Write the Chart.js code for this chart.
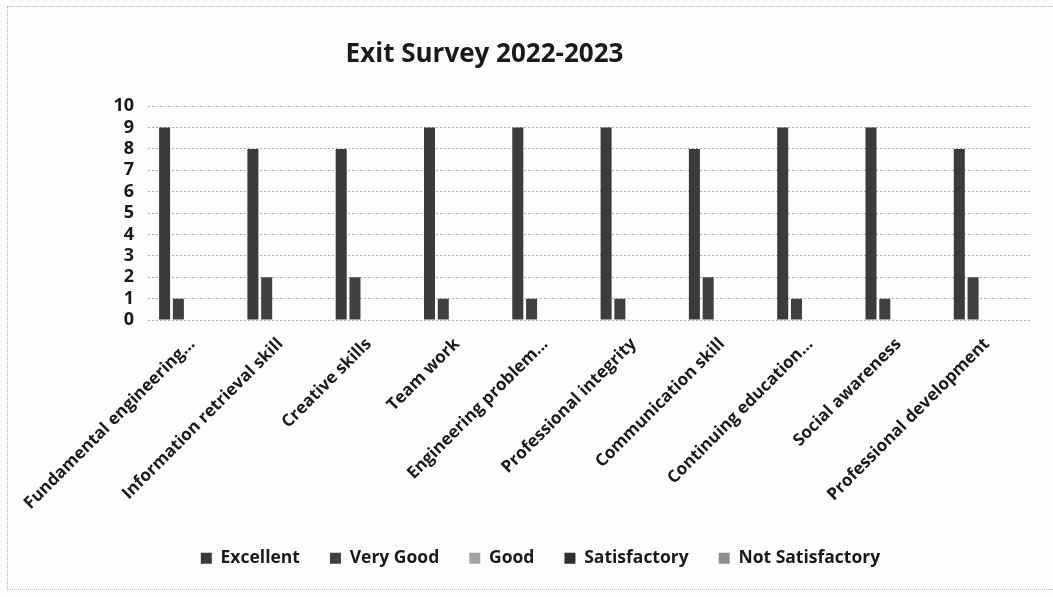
<!DOCTYPE html>
<html>
<head>
<meta charset="utf-8">
<script src="https://cdn.jsdelivr.net/npm/chart.js@4/dist/chart.umd.min.js"></script>
<style>
  html, body { margin: 0; padding: 0; background: #fdfdfd; }
  #wrap { position: relative; width: 1053px; height: 597px; }
  #frame {
    position: absolute; left: 7px; top: 6px; width: 1060px; height: 584px;
    border: 1px dotted #b5b5b5; box-sizing: border-box; pointer-events: none;
  }
</style>
</head>
<body>
<div id="wrap">
  <canvas id="chart_1" width="1053" height="597"></canvas>
  <div id="frame"></div>
</div>
<script>
// categories
const categories = [
  "Fundamental engineering...",
  "Information retrieval skill",
  "Creative skills",
  "Team work",
  "Engineering problem...",
  "Professional integrity",
  "Communication skill",
  "Continuing education...",
  "Social awareness",
  "Professional development",
];

// series values
const excellent = [9, 8, 8, 9, 9, 9, 8, 9, 9, 8];
const veryGood = [1, 2, 2, 1, 1, 1, 2, 1, 1, 2];
const good = [0, 0, 0, 0, 0, 0, 0, 0, 0, 0];
const satisfactory = [0, 0, 0, 0, 0, 0, 0, 0, 0, 0];
const notSatisfactory = [0, 0, 0, 0, 0, 0, 0, 0, 0, 0];

const seriesNames = ["Excellent", "Very Good", "Good", "Satisfactory", "Not Satisfactory"];
const seriesValues = [excellent, veryGood, good, satisfactory, notSatisfactory];
const seriesColors = ["#3b3b3b", "#404040", "#a3a3a3", "#2f2f2f", "#8e8e8e"];

const fontFamily = "'Open Sans', 'DejaVu Sans', sans-serif";

// 標題往左、圖例往右微調
const shiftBlocksPlugin = {
  id: "shiftBlocks",
  afterLayout: (chart) => {
    if (chart.titleBlock) {
      chart.titleBlock.left -= 72;
    }
    if (chart.legend) {
      chart.legend.left += 20;
      chart.legend.right += 20;
    }
  },
};

const ctx_1 = document.getElementById("chart_1");
const chart_1 = new Chart(ctx_1, {
  type: "bar",
  data: {
    labels: categories,
    datasets: seriesNames.map((name, i) => ({
      label: name,
      data: seriesValues[i],
      backgroundColor: seriesColors[i],
      borderWidth: 0,
      categoryPercentage: 0.78,
      barPercentage: 0.8,
    })),
  },
  options: {
    responsive: false,
    animation: false,
    devicePixelRatio: 1,
    layout: {
      padding: { left: 10, right: 22, top: 0, bottom: 20 },
    },
    plugins: {
      title: {
        display: true,
        text: "Exit Survey 2022-2023",
        color: "#1a1a1a",
        font: { family: fontFamily, size: 26, weight: "bold" },
        padding: { top: 39, bottom: 36 },
      },
      legend: {
        position: "bottom",
        labels: {
          color: "#1a1a1a",
          boxWidth: 11,
          boxHeight: 11,
          padding: 30,
          font: { family: fontFamily, size: 17.5, weight: "bold" },
        },
      },
      tooltip: { enabled: false },
    },
    scales: {
      x: {
        grid: { display: false },
        border: { display: false },
        ticks: {
          color: "#1a1a1a",
          autoSkip: false,
          minRotation: 45,
          maxRotation: 45,
          padding: 6,
          font: { family: fontFamily, size: 17, weight: "bold" },
        },
      },
      y: {
        min: 0,
        max: 10,
        // y 軸寬度固定，讓圖區從左邊 148px 開始
        afterFit: (scale) => {
          scale.width = 138;
        },
        grid: {
          color: "#adadad",
          lineWidth: 1,
          drawTicks: false,
        },
        border: { display: false, dash: [2, 2] },
        ticks: {
          stepSize: 1,
          autoSkip: false,
          color: "#1a1a1a",
          padding: 14,
          font: { family: fontFamily, size: 18, weight: "bold", lineHeight: 1 },
        },
      },
    },
  },
  plugins: [shiftBlocksPlugin],
});
</script>
</body>
</html>
